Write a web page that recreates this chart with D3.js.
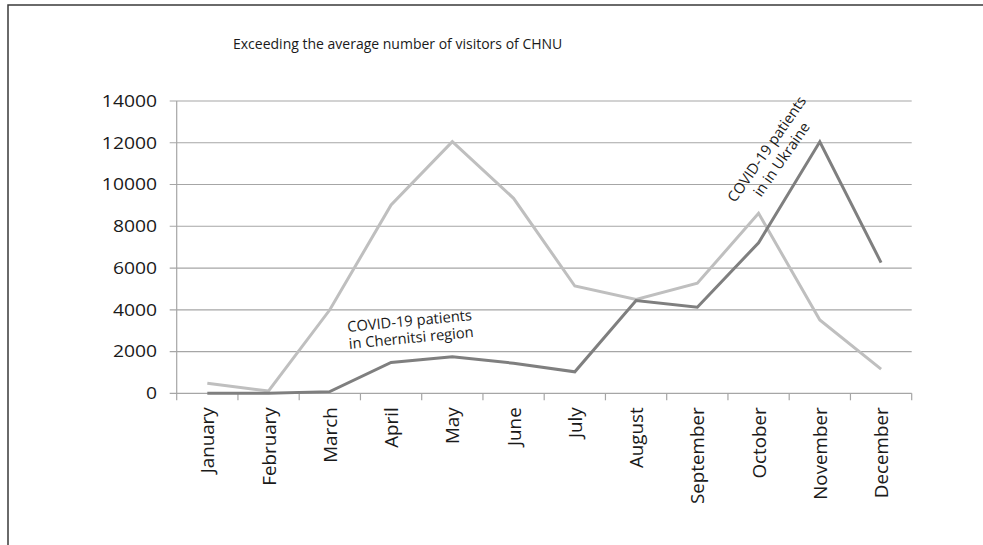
<!DOCTYPE html>
<html>
<head>
<meta charset="utf-8">
<script src="https://cdn.jsdelivr.net/npm/d3@7"></script>
<style>
  html, body { margin: 0; padding: 0; background: #fff; }
  svg { display: block; }
  text { font-family: "Open Sans", Lato, sans-serif; fill: #1a1a1a; }
</style>
</head>
<body>
<div id="chart"></div>
<script>
// Monthly categories
const months = ["January", "February", "March", "April", "May", "June",
                "July", "August", "September", "October", "November", "December"];

// Light series: COVID-19 patients in Chernivtsi region (scaled)
const regionValues = [480, 110, 4000, 9020, 12050, 9340, 5140, 4500, 5270, 8620, 3510, 1160];

// Dark series: COVID-19 patients in Ukraine (scaled)
const ukraineValues = [0, 0, 80, 1480, 1750, 1440, 1030, 4440, 4120, 7210, 12050, 6260];

// Value axis ticks
const yTicks = [0, 2000, 4000, 6000, 8000, 10000, 12000, 14000];

const chartTitle = "Exceeding the average number of visitors of CHNU";
const regionLabel = ["COVID-19 patients", "in Chernitsi region"];
const ukraineLabel = ["COVID-19 patients", "in in Ukraine"];

const W = 983, H = 545;
const plot = { left: 176.7, right: 911.7, top: 101, bottom: 393.3 };

const svg = d3.select("#chart").append("svg")
  .attr("width", W).attr("height", H);

svg.append("rect").attr("width", W).attr("height", H).attr("fill", "#fff");

// outer frame
svg.append("rect")
  .attr("x", 8).attr("y", 5).attr("width", W + 20).attr("height", H + 20)
  .attr("fill", "none").attr("stroke", "#3a3a3a").attr("stroke-width", 1.5);

const x = d3.scaleBand().domain(months).range([plot.left, plot.right]);
const y = d3.scaleLinear().domain([0, 14000]).range([plot.bottom, plot.top]);

// horizontal gridlines with short ticks to the left of the axis
svg.append("g").selectAll("line").data(yTicks).join("line")
  .attr("x1", plot.left - 7).attr("x2", plot.right)
  .attr("y1", d => y(d)).attr("y2", d => y(d))
  .attr("stroke", "#a6a6a6").attr("stroke-width", 1.2);

// vertical value axis line
svg.append("line")
  .attr("x1", plot.left).attr("x2", plot.left)
  .attr("y1", y(14000)).attr("y2", y(0))
  .attr("stroke", "#a6a6a6").attr("stroke-width", 1.2);

// category axis
const xAxis = d3.axisBottom(x).tickSize(0).tickFormat(d => d);
const gx = svg.append("g").attr("transform", `translate(0,${plot.bottom})`).call(xAxis);
gx.select(".domain").remove();
gx.selectAll(".tick text")
  .attr("transform", "rotate(-90)")
  .attr("text-anchor", "end")
  .attr("x", -14).attr("y", 0).attr("dy", "0.38em")
  .style("font-size", "18.8px")
  .style("font-family", "'Open Sans', sans-serif")
  .attr("fill", "#1a1a1a");

// tick marks at category boundaries
const bounds = months.map(m => x(m)).concat([x(months[months.length - 1]) + x.bandwidth()]);
svg.append("g").selectAll("line").data(bounds).join("line")
  .attr("x1", d => d).attr("x2", d => d)
  .attr("y1", plot.bottom).attr("y2", plot.bottom + 7)
  .attr("stroke", "#a6a6a6").attr("stroke-width", 1.2);

// value labels, slightly widened
svg.append("g").selectAll("text").data(yTicks).join("text")
  .attr("transform", d => `translate(157,${y(d)}) scale(1.17,1)`)
  .attr("dy", "0.36em")
  .attr("text-anchor", "end")
  .style("font-size", "16.5px")
  .text(d => d);

// title
svg.append("text")
  .attr("x", 233).attr("y", 49)
  .style("font-size", "14px")
  .text(chartTitle);

const line = d3.line()
  .x((d, i) => x(months[i]) + x.bandwidth() / 2)
  .y(d => y(d));

svg.append("path").datum(regionValues)
  .attr("d", line).attr("fill", "none")
  .attr("stroke", "#bfbfbf").attr("stroke-width", 3)
  .attr("stroke-linejoin", "miter");

svg.append("path").datum(ukraineValues)
  .attr("d", line).attr("fill", "none")
  .attr("stroke", "#7f7f7f").attr("stroke-width", 3)
  .attr("stroke-linejoin", "miter");

// annotations
function annotate(lines, cx, cy, angle, gap) {
  const g = svg.append("g").attr("transform", `translate(${cx},${cy}) rotate(${angle})`);
  g.selectAll("text").data(lines).join("text")
    .attr("x", 0).attr("y", (d, i) => i * gap)
    .attr("text-anchor", "middle")
    .style("font-size", "14.7px")
    .text(d => d);
}
annotate(regionLabel, 410, 326, -5.5, 17);
annotate(ukraineLabel, 771, 152, -55, 18);
</script>
</body>
</html>
